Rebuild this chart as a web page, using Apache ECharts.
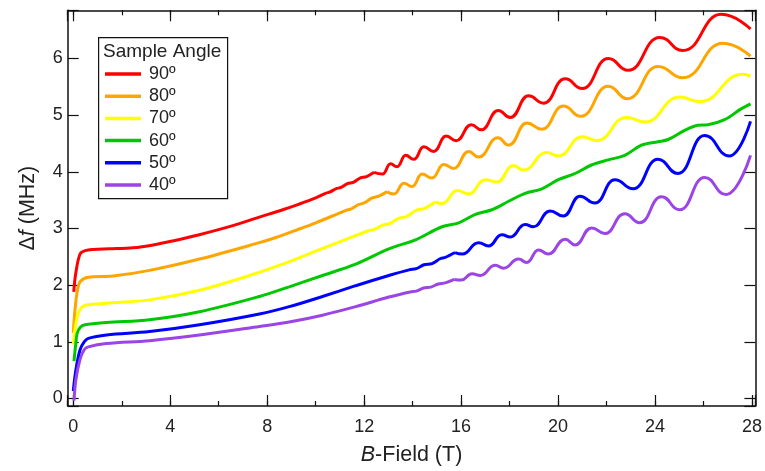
<!DOCTYPE html>
<html><head><meta charset="utf-8">
<script src="https://cdn.jsdelivr.net/npm/echarts@6/dist/echarts.min.js"></script>
<style>html,body{margin:0;padding:0;background:#fff}#c{width:765px;height:471px}</style>
</head><body><div id="c"></div>
<script>
// ---- data (B-field in T, Δf in MHz) ----
const angleNames = ['90º', '80º', '70º', '60º', '50º', '40º'];
const xTickValues = [0, 4, 8, 12, 16, 20, 24, 28];
const yTickValues = [0, 1, 2, 3, 4, 5, 6];

// background part of each trace: steep onset, gradual rise, weak early ripples
const rise90 = [[0.02,1.88],[0.1,2.2],[0.28,2.55],[0.5,2.61],[0.82,2.63],[1.5,2.64],[2.47,2.66],[3.3,2.71],[4.1,2.78],[5.2,2.89],[6.58,3.05],[7.68,3.2],[8.64,3.33],[9.32,3.43],[10.0,3.54],[10.4,3.62],[10.6,3.645],[10.83,3.70],[11.05,3.725],[11.31,3.79],[11.55,3.815],[11.83,3.89],[12.1,3.915],[12.41,3.99]];
const rise80 = [[0.0,1.16],[0.07,1.56],[0.18,1.93],[0.3,2.07],[0.62,2.14],[1.64,2.16],[3.15,2.26],[5.21,2.46],[7.68,2.75],[8.36,2.84],[9.32,2.99],[10.0,3.10],[10.69,3.22],[11.25,3.32],[11.47,3.345],[11.76,3.42],[12.0,3.45],[12.33,3.54],[12.6,3.57],[12.95,3.65]];
const rise70 = [[0.0,0.95],[0.08,1.25],[0.2,1.50],[0.35,1.61],[0.55,1.65],[1.37,1.68],[3.15,1.74],[5.21,1.91],[7.27,2.17],[8.64,2.37],[10.0,2.60],[11.38,2.83],[12.18,2.96],[12.45,2.99],[12.77,3.06],[13.05,3.085],[13.42,3.18],[13.75,3.21],[14.14,3.32],[14.5,3.355],[14.94,3.47]];
const rise60 = [[0.03,0.66],[0.1,0.95],[0.16,1.15],[0.3,1.26],[0.48,1.30],[1.37,1.34],[3.15,1.39],[5.21,1.53],[7.68,1.80],[8.91,1.97],[10.28,2.17],[11.65,2.37],[13.02,2.64],[14.12,2.80],[15.21,3.03],[15.9,3.10],[16.59,3.25],[17.27,3.33],[17.96,3.48],[18.64,3.62],[19.33,3.70],[20.01,3.86],[20.7,3.97],[21.38,4.12],[22.07,4.21],[22.75,4.29],[23.44,4.47],[24.12,4.53],[24.54,4.57],[25.22,4.73],[25.77,4.82],[26.18,4.83],[26.87,4.92],[27.55,5.11],[27.94,5.20]];
const rise50 = [[0.0,0.13],[0.11,0.51],[0.28,0.86],[0.45,1.0],[0.62,1.06],[1.37,1.12],[3.15,1.18],[5.21,1.30],[7.68,1.49],[8.91,1.62],[10.28,1.80],[11.65,1.99],[13.02,2.17],[13.85,2.27],[14.15,2.29],[14.47,2.36],[14.8,2.38],[15.15,2.47],[15.35,2.49],[15.75,2.575]];
const rise40 = [[0.03,-0.04],[0.11,0.34],[0.28,0.69],[0.45,0.86],[0.62,0.91],[1.37,0.97],[3.15,1.02],[5.21,1.12],[7.68,1.27],[8.91,1.35],[10.28,1.47],[11.65,1.62],[13.02,1.79],[13.9,1.88],[14.15,1.895],[14.45,1.95],[14.75,1.965],[15.06,2.02],[15.35,2.04],[15.72,2.10]];

// oscillating part: successive maxima / minima
const osc90 = [[12.41,3.99],[12.76,3.96],[13.09,4.14],[13.36,4.09],[13.71,4.29],[14.05,4.22],[14.46,4.44],[14.87,4.36],[15.38,4.63],[15.8,4.55],[16.42,4.83],[16.83,4.74],[17.53,5.08],[18.03,4.96],[18.78,5.34],[19.40,5.21],[20.29,5.64],[21.0,5.47],[22.07,6.0],[22.89,5.79],[24.19,6.37],[25.15,6.14],[26.73,6.78],[27.94,6.52]];
const osc80 = [[12.95,3.65],[13.23,3.61],[13.64,3.80],[13.98,3.74],[14.39,3.96],[14.8,3.89],[15.28,4.13],[15.7,4.06],[16.31,4.36],[16.72,4.26],[17.52,4.60],[17.96,4.47],[18.71,4.86],[19.33,4.75],[20.22,5.16],[20.94,4.98],[22.07,5.51],[22.86,5.29],[24.12,5.86],[25.15,5.66],[26.8,6.27],[27.94,6.04]];
const osc70 = [[14.94,3.47],[15.21,3.44],[15.85,3.67],[16.31,3.61],[17.0,3.86],[17.48,3.82],[18.16,4.11],[18.57,4.03],[19.53,4.34],[20.01,4.28],[21.0,4.62],[21.6,4.55],[22.82,4.96],[23.58,4.88],[25.02,5.32],[25.84,5.24],[27.62,5.72],[27.94,5.69]];
const osc60 = [];
const osc50 = [[15.75,2.575],[16.05,2.55],[16.72,2.75],[17.13,2.69],[17.68,2.89],[18.03,2.85],[18.64,3.07],[18.98,3.03],[19.67,3.31],[20.22,3.22],[20.9,3.57],[21.52,3.45],[22.34,3.86],[23.1,3.70],[24.12,4.22],[24.95,3.97],[26.04,4.64],[27.07,4.28],[27.94,4.89]];
const osc40 = [[15.72,2.10],[16.0,2.09],[16.45,2.20],[16.79,2.17],[17.41,2.35],[17.75,2.30],[18.37,2.46],[18.71,2.40],[19.19,2.62],[19.6,2.55],[20.29,2.81],[20.7,2.71],[21.38,3.01],[21.93,2.91],[22.75,3.26],[23.37,3.10],[24.26,3.56],[25.02,3.33],[26.04,3.90],[26.93,3.60],[27.94,4.29]];

const riseParts = [rise90, rise80, rise70, rise60, rise50, rise40];
const oscParts = [osc90, osc80, osc70, osc60, osc50, osc40];

// ---- styling ----
const palette = ['#ff0000', '#ffa500', '#ffff00', '#00c800', '#0000ff', '#9b45e6'];
const FONT = 'Liberation Sans, Arial, sans-serif';
const X_MIN = -0.23, X_MAX = 28.14, Y_MIN = -0.133, Y_MAX = 6.85;

const chart = echarts.init(document.getElementById('c'), null, {renderer: 'canvas'});

function xAxisDef(pos, major, labels) {
  return {
    type: 'value', position: pos, min: X_MIN, max: X_MAX,
    minInterval: major ? 4 : 2, maxInterval: major ? 4 : 2,
    splitLine: {show: false},
    axisLine: {show: major, onZero: false, lineStyle: {color: '#111', width: 1.5}},
    axisTick: {show: true, inside: true, length: major ? 11 : 5, lineStyle: {color: '#111', width: 1.2}},
    axisLabel: {show: labels, margin: 12, fontSize: 18, color: '#222', fontFamily: FONT,
      formatter: v => xTickValues.includes(v) ? String(v) : ''},
    name: labels ? '{i|B}-Field (T)' : '',
    nameLocation: 'middle', nameGap: 38,
    nameTextStyle: {fontSize: 21.5, color: '#222', fontFamily: FONT,
      rich: {i: {fontStyle: 'italic', fontSize: 21.5, color: '#222', fontFamily: FONT}}}
  };
}
function yAxisDef(pos, labels) {
  return {
    type: 'value', position: pos, min: Y_MIN, max: Y_MAX,
    minInterval: 1, maxInterval: 1,
    splitLine: {show: false},
    axisLine: {show: true, onZero: false, lineStyle: {color: '#111', width: 1.5}},
    axisTick: {show: true, inside: true, length: 11, lineStyle: {color: '#111', width: 1.2}},
    axisLabel: {show: labels, margin: 5, fontSize: 18, color: '#222', fontFamily: FONT,
      formatter: v => yTickValues.includes(v) ? String(v) : ''},
    name: labels ? 'Δ{i|f} (MHz)' : '',
    nameLocation: 'middle', nameGap: 29,
    nameTextStyle: {fontSize: 21.5, color: '#222', fontFamily: FONT,
      rich: {i: {fontStyle: 'italic', fontSize: 21.5, color: '#222', fontFamily: FONT}}}
  };
}

const series = [];
riseParts.forEach((d, i) => {
  series.push({
    type: 'line', name: angleNames[i], data: d, xAxisIndex: 0, yAxisIndex: 0,
    symbol: 'none', showSymbol: false, smooth: 0.35, clip: false,
    lineStyle: {width: 3, color: palette[i]}, itemStyle: {color: palette[i]}
  });
  if (oscParts[i].length) series.push({
    type: 'line', name: angleNames[i], data: oscParts[i], xAxisIndex: 0, yAxisIndex: 0,
    symbol: 'none', showSymbol: false, smooth: 0.5, smoothMonotone: 'x', clip: false,
    lineStyle: {width: 3, color: palette[i]}, itemStyle: {color: palette[i]}
  });
});

chart.setOption({
  animation: false,
  backgroundColor: '#fff',
  grid: {left: 67.7, top: 10.3, width: 690, height: 400, containLabel: false},
  xAxis: [xAxisDef('bottom', true, true), xAxisDef('bottom', false, false),
          xAxisDef('top', true, false), xAxisDef('top', false, false)],
  yAxis: [yAxisDef('left', true), yAxisDef('right', false)],
  legend: {
    show: true, orient: 'vertical', left: 105, top: 65, padding: 0,
    icon: 'rect', itemWidth: 36, itemHeight: 3.5, itemGap: 4.2,
    data: angleNames,
    textStyle: {fontSize: 18, color: '#222', fontFamily: FONT, lineHeight: 18, padding: [0, 0, 0, 3]}
  },
  graphic: [
    {type: 'rect', left: 98, top: 37, z: -1, shape: {width: 129, height: 161},
     style: {fill: '#fff', stroke: '#111', lineWidth: 1.2}},
    {type: 'text', left: 103, top: 42.5, z: 10,
     style: {text: 'Sample Angle', fontSize: 19, fill: '#222', fontFamily: FONT}}
  ],
  series: series
});
</script></body></html>
